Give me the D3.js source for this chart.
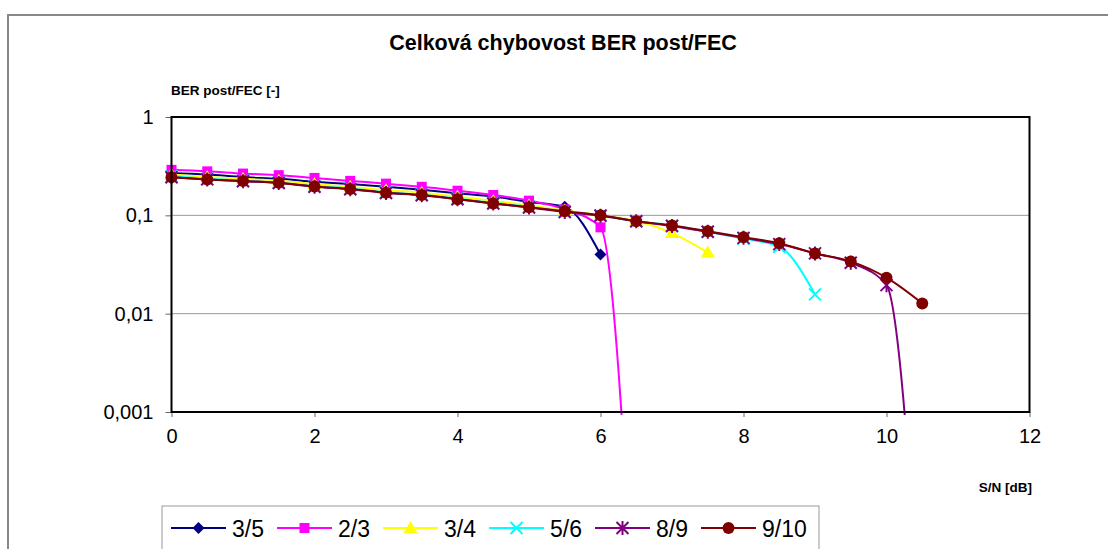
<!DOCTYPE html>
<html>
<head>
<meta charset="utf-8">
<script src="https://d3js.org/d3.v7.min.js"></script>
<style>
  body { margin: 0; background: #fff; }
  text { font-family: "Liberation Sans", Arial, sans-serif; }
</style>
</head>
<body>
<div id="chart"></div>
<script>
// S/N [dB] values
var snr = [0, 0.5, 1, 1.5, 2, 2.5, 3, 3.5, 4, 4.5, 5, 5.5, 6, 6.5, 7, 7.5, 8, 8.5, 9, 9.5, 10, 10.5];

// BER post/FEC per code rate
var ber35  = [0.27, 0.26, 0.245, 0.235, 0.22, 0.208, 0.195, 0.182, 0.168, 0.155, 0.137, 0.122, 0.040];
var ber23  = [0.29, 0.28, 0.266, 0.256, 0.24, 0.224, 0.21, 0.195, 0.178, 0.161, 0.141, 0.115, 0.0755, 0.000003];
var ber34  = [0.26, 0.246, 0.235, 0.225, 0.208, 0.195, 0.18, 0.17, 0.155, 0.14, 0.127, 0.112, 0.1, 0.088, 0.066, 0.042];
var ber56  = [0.25, 0.235, 0.225, 0.215, 0.198, 0.187, 0.172, 0.162, 0.148, 0.134, 0.122, 0.109, 0.1, 0.087, 0.079, 0.068, 0.058, 0.048, 0.0157];
var ber89  = [0.244, 0.232, 0.222, 0.213, 0.195, 0.184, 0.169, 0.16, 0.146, 0.132, 0.12, 0.108, 0.099, 0.087, 0.078, 0.068, 0.059, 0.051, 0.041, 0.033, 0.0195, 0.000003];
var ber910 = [0.244, 0.232, 0.223, 0.214, 0.196, 0.185, 0.17, 0.161, 0.146, 0.132, 0.121, 0.11, 0.1, 0.087, 0.079, 0.069, 0.06, 0.052, 0.041, 0.034, 0.0232, 0.0127];

var seriesNames = ["3/5", "2/3", "3/4", "5/6", "8/9", "9/10"];
var seriesColors = ["#000080", "#FF00FF", "#FFFF00", "#00FFFF", "#800080", "#800000"];
var seriesMarkers = ["diamond", "square", "triangle", "cross", "star", "circle"];
var seriesValues = [ber35, ber23, ber34, ber56, ber89, ber910];

var yTicks = [1, 0.1, 0.01, 0.001];
var yTickLabels = ["1", "0,1", "0,01", "0,001"];
var xTicks = [0, 2, 4, 6, 8, 10, 12];

(function(){
var W = 1108, H = 549;
var pLeft = 171.5, pRight = 1029.5, pTop = 117, pBottom = 412;

var svg = d3.select("#chart").append("svg").attr("width", W).attr("height", H);

// outer chart frame
svg.append("rect").attr("x", 8).attr("y", 15).attr("width", 1120).attr("height", 560)
  .attr("fill", "#fff").attr("stroke", "#888").attr("stroke-width", 2);

var x = d3.scaleLinear().domain([0, 12]).range([pLeft, pRight]);
var y = d3.scaleLog().domain([0.001, 1]).range([pBottom, pTop]);

// grid lines
svg.selectAll("line.grid").data([0.1, 0.01]).enter().append("line")
  .attr("class", "grid")
  .attr("x1", pLeft).attr("x2", pRight)
  .attr("y1", function(d){ return y(d); }).attr("y2", function(d){ return y(d); })
  .attr("stroke", "#999").attr("stroke-width", 1);

// axes
var yAxis = svg.append("g").attr("transform", "translate(" + pLeft + ",0)")
  .call(d3.axisLeft(y).tickValues(yTicks).tickSize(6).tickPadding(12)
    .tickFormat(function(d, i){ return yTickLabels[i]; }));
var xAxis = svg.append("g").attr("transform", "translate(0," + pBottom + ")")
  .call(d3.axisBottom(x).tickValues(xTicks).tickSize(5).tickPadding(12));
[yAxis, xAxis].forEach(function(g){
  g.select(".domain").remove();
  g.selectAll("line").attr("stroke", "#666");
  g.selectAll("text").attr("font-size", 20).attr("fill", "#000")
    .style("font-family", "'Liberation Sans', Arial, sans-serif");
});

// clip to plot area
svg.append("clipPath").attr("id", "plotclip").append("rect")
  .attr("x", pLeft).attr("y", pTop).attr("width", pRight - pLeft).attr("height", pBottom - pTop + 3);

var line = d3.line()
  .x(function(d){ return x(d[0]); })
  .y(function(d){ return y(d[1]); })
  .curve(d3.curveMonotoneX);

function marker(g, type, color, cx, cy) {
  if (type == "diamond") {
    g.append("path").attr("d", "M" + cx + "," + (cy - 6) + "L" + (cx + 6) + "," + cy + "L" + cx + "," + (cy + 6) + "L" + (cx - 6) + "," + cy + "Z")
      .attr("fill", color);
  } else if (type == "square") {
    g.append("rect").attr("x", cx - 5).attr("y", cy - 5).attr("width", 10).attr("height", 10).attr("fill", color);
  } else if (type == "triangle") {
    g.append("path").attr("d", "M" + cx + "," + (cy - 7) + "L" + (cx + 7) + "," + (cy + 5) + "L" + (cx - 7) + "," + (cy + 5) + "Z")
      .attr("fill", color);
  } else if (type == "cross") {
    g.append("path").attr("d", "M" + (cx - 6) + "," + (cy - 6) + "L" + (cx + 6) + "," + (cy + 6) + "M" + (cx + 6) + "," + (cy - 6) + "L" + (cx - 6) + "," + (cy + 6))
      .attr("stroke", color).attr("stroke-width", 2).attr("fill", "none");
  } else if (type == "star") {
    g.append("path").attr("d", "M" + (cx - 6) + "," + (cy - 6) + "L" + (cx + 6) + "," + (cy + 6) + "M" + (cx + 6) + "," + (cy - 6) + "L" + (cx - 6) + "," + (cy + 6) + "M" + cx + "," + (cy - 7) + "L" + cx + "," + (cy + 7))
      .attr("stroke", color).attr("stroke-width", 2).attr("fill", "none");
  } else {
    g.append("circle").attr("cx", cx).attr("cy", cy).attr("r", 6).attr("fill", color);
  }
}

var plot = svg.append("g");
seriesValues.forEach(function(vals, s){
  var pts = vals.map(function(v, i){ return [snr[i], v]; });
  var g = plot.append("g");
  g.append("path").datum(pts)
    .attr("clip-path", "url(#plotclip)")
    .attr("d", line).attr("fill", "none")
    .attr("stroke", seriesColors[s]).attr("stroke-width", 2);
  pts.forEach(function(p){
    if (p[1] >= 0.001) marker(g, seriesMarkers[s], seriesColors[s], x(p[0]), y(p[1]));
  });
});

// plot frame
svg.append("rect").attr("x", pLeft).attr("y", pTop).attr("width", pRight - pLeft).attr("height", pBottom - pTop)
  .attr("fill", "none").attr("stroke", "#000").attr("stroke-width", 2);

// texts
svg.append("text").attr("x", 563).attr("y", 50).attr("text-anchor", "middle")
  .attr("font-size", 21.5).attr("font-weight", "bold").text("Celková chybovost BER post/FEC");
svg.append("text").attr("x", 171).attr("y", 95)
  .attr("font-size", 13.5).attr("font-weight", "bold").text("BER post/FEC [-]");
svg.append("text").attr("x", 1032).attr("y", 492).attr("text-anchor", "end")
  .attr("font-size", 13.5).attr("font-weight", "bold").text("S/N [dB]");

// legend
var legend = svg.append("g");
legend.append("rect").attr("x", 162).attr("y", 506).attr("width", 657).attr("height", 70)
  .attr("fill", "#fff").attr("stroke", "#999").attr("stroke-width", 1);
seriesNames.forEach(function(name, s){
  var lx = 171 + s * 106, ly = 528;
  var g = legend.append("g");
  g.append("line").attr("x1", lx).attr("x2", lx + 55).attr("y1", ly).attr("y2", ly)
    .attr("stroke", seriesColors[s]).attr("stroke-width", 2);
  marker(g, seriesMarkers[s], seriesColors[s], lx + 27.5, ly);
  g.append("text").attr("x", lx + 61).attr("y", ly + 8.5).attr("font-size", 23).text(name);
});
})();
</script>
</body>
</html>
